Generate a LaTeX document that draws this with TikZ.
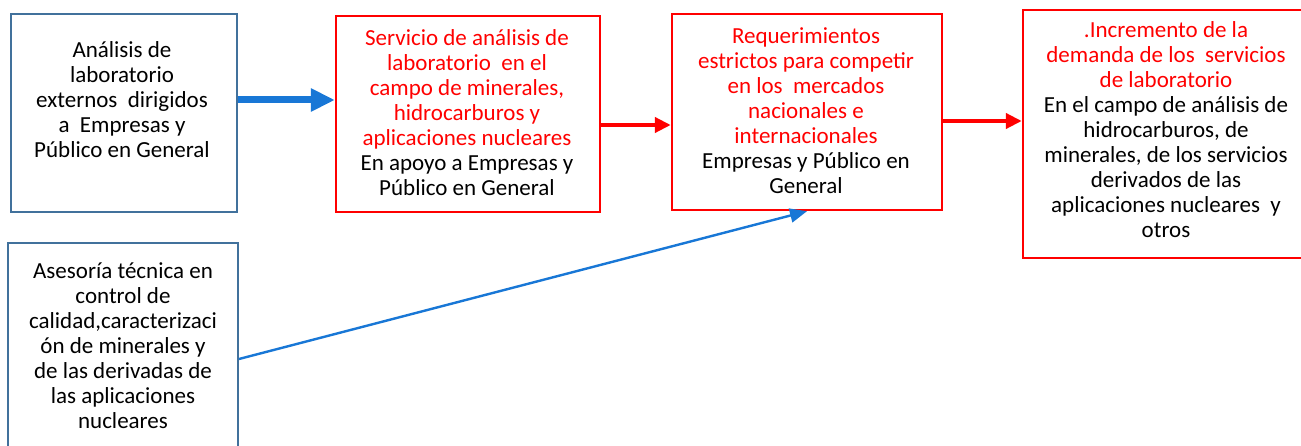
\documentclass[tikz,border=0pt]{standalone}
\usepackage{fontspec}
\setmainfont{Carlito}
\usetikzlibrary{arrows.meta}
\definecolor{boxblue}{RGB}{65,113,156}
\definecolor{arrblue}{RGB}{24,119,214}
\definecolor{rred}{RGB}{255,0,0}
\newcommand\rl[1]{\textcolor{rred}{#1}}
\newcommand\fl{\rule{0pt}{24pt}}
\begin{document}
\begin{tikzpicture}[x=1pt,y=-1pt,
  bluebox/.style={draw=boxblue,line width=2pt,inner sep=0pt},
  redbox/.style={draw=rred,line width=2.4pt,inner sep=0pt},
  txt/.style={anchor=north,inner sep=0pt,align=center,text=black,font=\fontsize{23}{25}\selectfont},
  thickarr/.style={draw=arrblue,line width=7pt,-{Triangle[length=24pt,width=22pt]}},
  redarr/.style={draw=rred,line width=4pt,-{Triangle[length=16pt,width=15pt]}},
  thinarr/.style={draw=arrblue,line width=2.4pt,-{Triangle[length=17pt,width=14pt]}}
]
\useasboundingbox[fill=white] (0,0) rectangle (1301,446);
\node[bluebox,minimum width=226pt,minimum height=198pt] (b1) at (124,113) {};
\node[redbox,minimum width=264pt,minimum height=196pt] (b2) at (468,114) {};
\node[redbox,minimum width=270pt,minimum height=196pt] (b3) at (807,112) {};
\node[redbox,minimum width=280pt,minimum height=248pt] (b4) at (1163,134) {};
\node[bluebox,minimum width=230pt,minimum height=207pt] (b5) at (123,346.5) {};

\node[txt] (t1) at (122,33) {\fl Análisis de\\laboratorio\\externos~ dirigidos\\a~ Empresas y\\Público en General};
\node[txt] (t2) at (467,21) {\fl\rl{Servicio de análisis de}\\\rl{laboratorio~ en el}\\\rl{campo de minerales,}\\\rl{hidrocarburos y}\\\rl{aplicaciones nucleares}\\En apoyo a Empresas y\\Público en General};
\node[txt] (t3) at (806,19) {\fl\rl{Requerimientos}\\\rl{estrictos para competir}\\\rl{en los~ mercados}\\\rl{nacionales e}\\\rl{internacionales}\\Empresas y Público en\\General};
\node[txt] (t4) at (1166,13) {\fl\rl{.Incremento de la}\\\rl{demanda de los~ servicios}\\\rl{de laboratorio}\\En el campo de análisis de\\hidrocarburos, de\\minerales, de los servicios\\derivados de las\\aplicaciones nucleares~ y\\otros};
\node[txt] (t5) at (123,254) {\fl Asesoría técnica en\\control de\\calidad,caracterizaci\\ón de minerales y\\de las derivadas de\\las aplicaciones\\nucleares};

\draw[thickarr] ([yshift=13pt]b1.east) -- ([yshift=14pt]b2.west);
\draw[redarr] ([yshift=-11pt]b2.east) -- ([yshift=-13pt]b3.west);
\draw[redarr] ([yshift=-9pt]b3.east) -- ([yshift=13pt]b4.west);
\draw[thinarr] ([yshift=-12.5pt]b5.east) -- (b3.south);
\end{tikzpicture}
\end{document}
